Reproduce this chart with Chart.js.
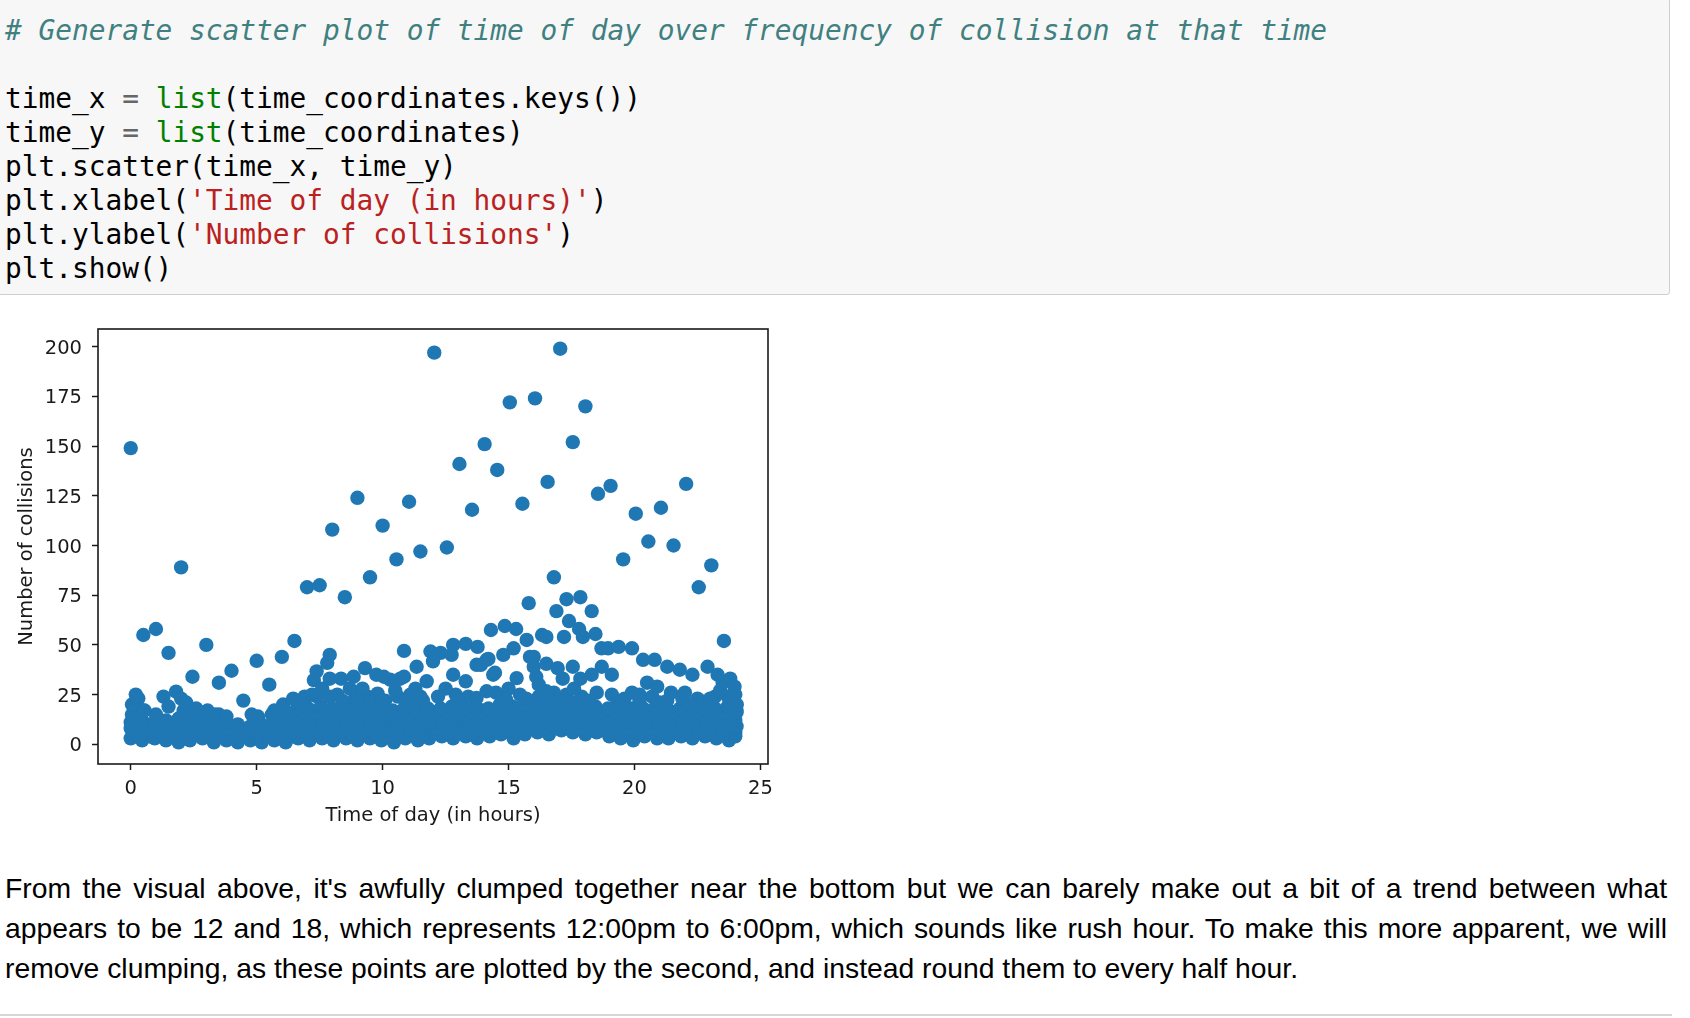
<!DOCTYPE html>
<html>
<head>
<meta charset="utf-8">
<script src="https://cdn.jsdelivr.net/npm/chart.js@4.4.1/dist/chart.umd.min.js"></script>
<style>
  body { margin: 0; background: #fff; width: 1690px; height: 1018px; overflow: hidden; position: relative; }
  .cell { position: absolute; left: -2px; top: -2px; width: 1672px; height: 297px; background: #f7f7f7;
          border: 1px solid #cfcfcf; border-radius: 3px; box-sizing: border-box; }
  .code { position: absolute; left: 6px; top: 15px; margin: 0; font-family: "DejaVu Sans Mono", monospace;
          font-size: 27.8px; line-height: 34px; color: #000; white-space: pre; }
  .cm { color: #408080; font-style: italic; }
  .bi { color: #008000; }
  .st { color: #ba2121; }
  .op { color: #666; }
  #plot { position: absolute; left: 0; top: 300px; width: 790px; height: 540px; }
  .text { position: absolute; left: 5px; top: 868px; width: 1662px; font-family: "Liberation Sans", Arial, sans-serif;
          font-size: 28.3px; line-height: 40px; color: #000; }
  .text div { white-space: nowrap; }
  .text .j { text-align: justify; text-align-last: justify; white-space: normal; }
  .rule { position: absolute; left: 0; top: 1014px; width: 1672px; height: 2px; background: #d6d6d6; }
</style>
</head>
<body>
<div class="cell">
<pre class="code"><span class="cm"># Generate scatter plot of time of day over frequency of collision at that time</span>

time_x <span class="op">=</span> <span class="bi">list</span>(time_coordinates.keys())
time_y <span class="op">=</span> <span class="bi">list</span>(time_coordinates)
plt.scatter(time_x, time_y)
plt.xlabel(<span class="st">'Time of day (in hours)'</span>)
plt.ylabel(<span class="st">'Number of collisions'</span>)
plt.show()</pre>
</div>

<div id="plot"><canvas id="scatterChart"></canvas></div>

<div class="text">
  <div class="j">From the visual above, it's awfully clumped together near the bottom but we can barely make out a bit of a trend between what</div>
  <div class="j">appears to be 12 and 18, which represents 12:00pm to 6:00pm, which sounds like rush hour. To make this more apparent, we will</div>
  <div>remove clumping, as these points are plotted by the second, and instead round them to every half hour.</div>
</div>
<div class="rule"></div>

<script>
// ===================== DATA =====================
// tick labels
const hourTicks = [0, 5, 10, 15, 20, 25];
const countTicks = [0, 25, 50, 75, 100, 125, 150, 175, 200];

// diem cao (cac moc tron gio / nua gio)
const peakPoints = [
    [0.0, 149], [2.0, 89], [7.0, 79], [7.5, 80], [8.0, 108], [8.5, 74], [9.0, 124], [9.5, 84],
    [10.0, 110], [10.55, 93], [11.05, 122], [11.5, 97], [12.05, 197], [12.55, 99], [13.05, 141],
    [13.55, 118], [14.05, 151], [14.55, 138], [15.05, 172], [15.55, 121], [15.8, 71], [16.05, 174],
    [16.55, 132], [16.8, 84], [17.05, 199], [17.3, 73], [17.55, 152], [17.85, 74], [16.9, 67],
    [18.3, 67], [17.4, 62], [18.05, 170], [18.55, 126], [19.05, 130], [19.55, 93], [20.05, 116],
    [20.55, 102], [21.05, 119], [21.55, 100], [22.05, 131], [22.55, 79], [23.05, 90], [23.55, 52]
];

// diem trung binh (40 - 60)
const midPoints = [
    [0.5, 55], [1.0, 58], [1.5, 46], [3.0, 50], [5.0, 42], [6.0, 44], [6.5, 52], [7.9, 45], [7.8, 41],
    [10.85, 47], [11.9, 46.7], [12.3, 46], [12.8, 50], [13.3, 50.5], [13.77, 49], [14.3, 57.5],
    [14.85, 59.5], [15.3, 58], [15.72, 52.5], [16.33, 55], [16.5, 54], [17.2, 54], [17.8, 58],
    [17.95, 54], [18.45, 55.5], [15.2, 48.3], [14.79, 45], [15.85, 44], [12.74, 45], [12.0, 41.7],
    [14.13, 42.5], [18.69, 48.3], [18.95, 48.3], [19.37, 49], [19.9, 48.3], [20.34, 42.5],
    [20.8, 42.5], [21.3, 39], [21.8, 37.5], [22.3, 35], [22.9, 39], [23.3, 35], [23.5, 31],
    [23.97, 29], [24.0, 25], [24.06, 20], [16.0, 39], [16.5, 40.5], [16.95, 38.3], [17.55, 39],
    [14.46, 36], [13.9, 40], [14.2, 43], [16.0, 44]
];

// vien tren cua dai day dac
const fringePoints = [
    [0.05, 20], [0.2, 25], [0.3, 23], [0.55, 17], [1.3, 24], [1.5, 19], [1.8, 26.5], [2.0, 23],
    [2.2, 21], [2.45, 34], [2.6, 18], [2.9, 16], [3.35, 15], [3.5, 31], [4.0, 37], [3.8, 14],
    [4.47, 22], [4.8, 15], [5.05, 14], [5.5, 30], [5.7, 17], [6.05, 20], [6.2, 16], [6.45, 23],
    [6.7, 21], [6.9, 24], [7.2, 25], [7.27, 32.3], [7.38, 36.7], [7.6, 28], [7.9, 33], [8.35, 33],
    [8.85, 34], [9.3, 38.3], [9.75, 35], [10.3, 32.5], [10.7, 33], [8.7, 28], [9.2, 28], [9.8, 25.5],
    [10.5, 27], [11.3, 28], [7.9, 24], [8.4, 22], [9.0, 22], [9.5, 21], [10.0, 22], [10.9, 22],
    [11.5, 24], [10.05, 34], [10.85, 34], [11.35, 39], [11.75, 31.7], [12.5, 28], [12.8, 35],
    [13.3, 31.7], [13.73, 40], [14.39, 35], [13.73, 23.3], [14.13, 26.7], [14.9, 22.5], [15.45, 25],
    [15.32, 33.3], [16.1, 34], [16.5, 26.7], [12.2, 24], [13.0, 22], [11.2, 20], [17.15, 33],
    [17.85, 33], [18.3, 35], [18.7, 39], [19.1, 35], [16.2, 30], [17.6, 28], [19.1, 25], [19.3, 20],
    [19.9, 26], [20.5, 31], [20.9, 29], [21.45, 26], [22.0, 26], [22.5, 23], [23.0, 23], [23.7, 24],
    [18.2, 22], [17.0, 22], [20.2, 22], [21.0, 21], [22.2, 20], [23.4, 27], [23.8, 33], [24.05, 16]
];

// dai day dac phia duoi (0 - 25)
const bandPoints = [
    // hang duoi cung
    [0.0, 3], [0.45, 2], [0.95, 3], [1.4, 2], [1.9, 1], [2.35, 2], [2.85, 3], [3.3, 1], [3.8, 2],
    [4.25, 1], [4.75, 2], [5.2, 1], [5.7, 2], [6.15, 1], [6.65, 3], [7.1, 2], [7.6, 3], [8.05, 2],
    [8.55, 3], [9.0, 2], [9.5, 3], [9.95, 2], [10.45, 1], [10.9, 3], [11.4, 2], [11.85, 3], [12.35, 4],
    [12.8, 3], [13.3, 4], [13.75, 3], [14.25, 4], [14.7, 5], [15.2, 3], [15.65, 5], [16.15, 6],
    [16.6, 5], [17.1, 7], [17.55, 6], [18.05, 5], [18.5, 6], [19.0, 4], [19.45, 3], [19.95, 2],
    [20.4, 4], [20.9, 3], [21.35, 3], [21.85, 4], [22.3, 3], [22.8, 4], [23.25, 3], [23.75, 2], [24.0, 4],
    // hang 1b
    [0.25, 5], [0.75, 4], [1.2, 5], [1.7, 4], [2.15, 4], [2.65, 5], [3.1, 4], [3.6, 4], [4.05, 3],
    [4.55, 4], [5.0, 3], [5.5, 4], [5.95, 4], [6.45, 4], [6.9, 5], [7.4, 5], [7.85, 5], [8.35, 5],
    [8.8, 5], [9.3, 5], [9.75, 5], [10.25, 4], [10.7, 5], [11.2, 5], [11.65, 5], [12.15, 6], [12.6, 6],
    [13.1, 6], [13.55, 6], [14.05, 6], [14.5, 7], [15.0, 7], [15.45, 7], [15.95, 8], [16.4, 8],
    [16.9, 8], [17.35, 9], [17.85, 8], [18.3, 8], [18.8, 7], [19.25, 6], [19.75, 6], [20.2, 6],
    [20.7, 6], [21.15, 6], [21.65, 6], [22.1, 6], [22.6, 6], [23.05, 6], [23.5, 5], [24.0, 6],
    // hang 2
    [0.2, 7], [0.7, 6], [1.15, 8], [1.65, 6], [2.1, 7], [2.6, 6], [3.05, 8], [3.55, 6], [4.0, 5],
    [4.5, 6], [4.95, 5], [5.45, 6], [5.9, 7], [6.4, 6], [6.85, 8], [7.35, 7], [7.8, 8], [8.3, 7],
    [8.75, 8], [9.25, 7], [9.7, 8], [10.2, 7], [10.65, 8], [11.15, 7], [11.6, 8], [12.1, 8], [12.55, 9],
    [13.05, 8], [13.5, 9], [14.0, 8], [14.45, 9], [14.95, 10], [15.4, 9], [15.9, 10], [16.35, 11],
    [16.85, 10], [17.3, 11], [17.8, 11], [18.25, 10], [18.75, 9], [19.2, 8], [19.7, 8], [20.15, 9],
    [20.65, 8], [21.1, 8], [21.6, 9], [22.05, 8], [22.55, 8], [23.0, 9], [23.5, 7], [23.95, 8],
    // hang 2b
    [0.0, 8], [0.5, 9], [0.95, 9], [1.45, 9], [1.9, 10], [2.4, 9], [2.9, 10], [3.35, 9], [3.85, 8],
    [4.3, 8], [4.8, 7], [5.25, 8], [5.75, 9], [6.2, 10], [6.7, 11], [7.15, 11], [7.65, 11], [8.1, 11],
    [8.6, 11], [9.05, 11], [9.55, 11], [10.0, 10], [10.5, 11], [10.95, 11], [11.45, 11], [11.9, 11],
    [12.4, 11], [12.85, 11], [13.35, 12], [13.8, 12], [14.3, 12], [14.75, 12], [15.25, 12], [15.7, 13],
    [16.2, 13], [16.65, 13], [17.15, 14], [17.6, 13], [18.1, 13], [18.55, 12], [19.05, 11], [19.5, 11],
    [20.0, 11], [20.45, 11], [20.95, 11], [21.4, 11], [21.9, 11], [22.35, 11], [22.85, 11], [23.3, 11],
    [23.8, 10], [24.05, 9],
    // hang 3
    [0.0, 11], [0.45, 12], [0.95, 11], [1.4, 12], [1.9, 13], [2.35, 12], [2.85, 13], [3.3, 12],
    [3.8, 11], [4.25, 10], [4.75, 9], [5.2, 10], [5.7, 12], [6.15, 13], [6.65, 14], [7.1, 13],
    [7.6, 14], [8.05, 13], [8.55, 14], [9.0, 13], [9.5, 14], [9.95, 13], [10.45, 14], [10.9, 13],
    [11.4, 14], [11.85, 13], [12.35, 14], [12.8, 13], [13.3, 14], [13.75, 15], [14.25, 14], [14.7, 15],
    [15.2, 14], [15.65, 15], [16.15, 16], [16.6, 15], [17.1, 16], [17.55, 16], [18.05, 15], [18.5, 14],
    [19.0, 13], [19.45, 14], [19.95, 13], [20.4, 14], [20.9, 13], [21.35, 14], [21.85, 13], [22.3, 14],
    [22.8, 13], [23.25, 14], [23.75, 13], [24.0, 12],
    // hang 3b
    [6.35, 15], [6.85, 16], [7.3, 16], [7.8, 16], [8.25, 16], [8.75, 16], [9.2, 16], [9.7, 16],
    [10.15, 15], [10.65, 16], [11.1, 15], [11.6, 16], [12.05, 16], [12.55, 16], [13.0, 16], [13.5, 16],
    [13.95, 17], [14.45, 17], [14.9, 17], [15.4, 17], [15.85, 18], [16.35, 18], [16.8, 18], [17.3, 18],
    [17.75, 18], [18.25, 17], [18.7, 16], [19.2, 16], [19.65, 16], [20.1, 16], [20.6, 16], [21.05, 16],
    [21.55, 16], [22.0, 16], [22.5, 16], [22.95, 16], [23.45, 16], [23.9, 15],
    // hang 4
    [0.05, 15], [0.5, 17], [1.0, 15], [2.1, 17], [2.55, 16], [3.05, 17], [3.5, 15], [5.6, 15], [6.1, 17],
    [6.6, 18], [7.05, 18], [7.55, 19], [8.0, 18], [8.5, 19], [8.95, 18], [9.45, 19], [9.9, 18],
    [10.4, 17], [10.85, 18], [11.35, 17], [11.8, 18], [12.3, 18], [12.75, 19], [13.25, 18], [13.7, 19],
    [14.2, 18], [14.65, 20], [15.15, 19], [15.6, 20], [16.1, 20], [16.55, 21], [17.05, 20], [17.5, 21],
    [18.0, 20], [18.45, 19], [18.95, 18], [19.4, 19], [19.9, 18], [20.35, 18], [20.85, 19], [21.3, 18],
    [21.8, 18], [22.25, 19], [22.75, 18], [23.2, 18], [23.7, 19], [24.05, 17],
    // hang 5 (thua)
    [6.9, 22], [7.4, 24], [8.2, 25], [8.9, 23], [9.4, 24], [10.1, 22], [10.6, 24], [11.1, 25], [11.6, 22],
    [12.9, 25], [13.4, 24], [14.5, 26], [15.0, 28], [15.7, 23], [16.2, 24], [16.8, 26], [17.3, 25],
    [17.9, 24], [18.5, 26], [19.6, 23], [20.2, 25], [20.7, 24], [21.3, 22], [21.9, 23], [22.6, 22],
    [23.2, 24], [23.9, 22]
];

// ===================== CHART =====================
const MPL_BLUE = '#1f77b4';
const AXIS_COLOR = '#1a1a1a';

// gop cac nhom diem thanh mot series
const time_points = [...bandPoints, ...fringePoints, ...midPoints, ...peakPoints]
    .map(p => ({ x: p[0], y: p[1] }));

// ve khung day du quanh vung do thi (giong matplotlib)
const framePlugin = {
    id: 'frame',
    afterDraw(chart) {
        const { ctx, chartArea: a } = chart;
        ctx.save();
        ctx.strokeStyle = AXIS_COLOR;
        ctx.lineWidth = 1.6;
        ctx.strokeRect(a.left, a.top, a.right - a.left, a.bottom - a.top);
        ctx.restore();
    }
};

const tickFont = { family: 'DejaVu Sans', size: 19.5 };

new Chart(document.getElementById('scatterChart'), {
    type: 'scatter',
    data: {
        datasets: [{
            label: 'time_y',
            data: time_points,
            backgroundColor: MPL_BLUE,
            borderColor: MPL_BLUE,
            borderWidth: 0,
            pointRadius: 7.2,
            pointHoverRadius: 7.2
        }]
    },
    options: {
        responsive: true,
        maintainAspectRatio: false,
        animation: false,
        events: [],
        layout: { padding: { top: 29, right: 22, left: 0, bottom: 0 } },
        plugins: { legend: { display: false }, tooltip: { enabled: false } },
        scales: {
            x: {
                type: 'linear',
                min: -1.3,
                max: 25.3,
                afterBuildTicks: s => { s.ticks = hourTicks.map(v => ({ value: v })); },
                afterFit: s => { s.height = 76; },
                ticks: { font: tickFont, color: AXIS_COLOR, padding: 7, maxRotation: 0 },
                grid: { drawOnChartArea: false, drawTicks: true, tickLength: 6, tickColor: AXIS_COLOR, tickWidth: 1.5 },
                border: { display: false },
                title: { display: true, text: 'Time of day (in hours)', font: tickFont, color: AXIS_COLOR,
                         padding: { top: 0, bottom: 12 } }
            },
            y: {
                type: 'linear',
                min: -9.9,
                max: 208.9,
                afterBuildTicks: s => { s.ticks = countTicks.map(v => ({ value: v })); },
                afterFit: s => { s.width = 98; },
                ticks: { font: tickFont, color: AXIS_COLOR, padding: 10, labelOffset: 2 },
                grid: { drawOnChartArea: false, drawTicks: true, tickLength: 6, tickColor: AXIS_COLOR, tickWidth: 1.5 },
                border: { display: false },
                title: { display: true, text: 'Number of collisions', font: tickFont, color: AXIS_COLOR,
                         padding: { top: 15, bottom: 0 } }
            }
        }
    },
    plugins: [framePlugin]
});
</script>
</body>
</html>
